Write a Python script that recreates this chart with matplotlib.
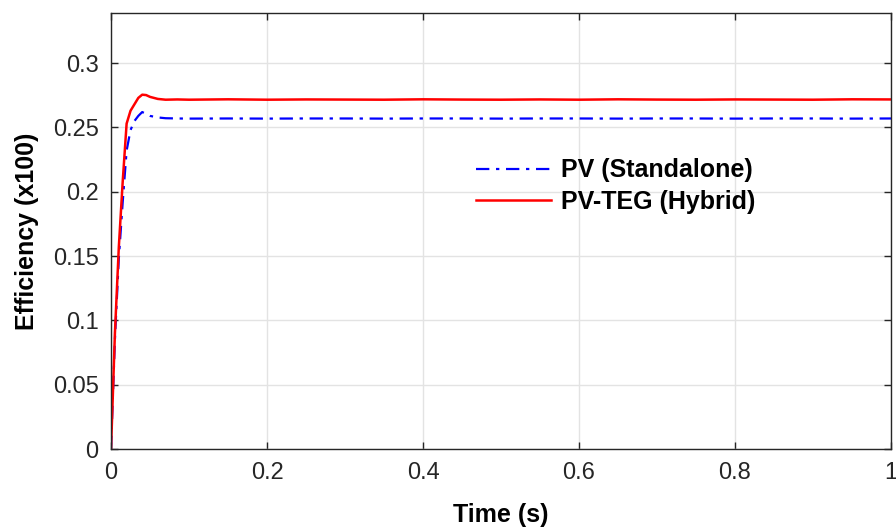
"""Efficiency of standalone PV vs hybrid PV-TEG over time."""

import matplotlib
matplotlib.use("Agg")
import matplotlib.pyplot as plt

# Data
time_s = [0.0, 0.005, 0.010, 0.015, 0.020, 0.025, 0.030, 0.035, 0.040, 0.045,
          0.050, 0.060, 0.070, 0.085, 0.10, 0.15, 0.20, 0.25, 0.30, 0.35, 0.40,
          0.45, 0.50, 0.55, 0.60, 0.65, 0.70, 0.75, 0.80, 0.85, 0.90, 0.95, 1.0]

pv_standalone = [0.0, 0.085, 0.148, 0.192, 0.232, 0.248, 0.255, 0.259, 0.262, 0.2605,
                 0.259, 0.2578, 0.2572, 0.2570, 0.2569, 0.2570, 0.2569, 0.2570, 0.2570, 0.2569, 0.2570,
                 0.2570, 0.2569, 0.2570, 0.2570, 0.2569, 0.2570, 0.2570, 0.2569, 0.2570, 0.2570, 0.2569, 0.2570]

pv_teg_hybrid = [0.0, 0.090, 0.157, 0.208, 0.253, 0.263, 0.268, 0.273, 0.2755, 0.2752,
                 0.2738, 0.2722, 0.2716, 0.2718, 0.2716, 0.2719, 0.2716, 0.2718, 0.2717, 0.2716, 0.2719,
                 0.2717, 0.2716, 0.2718, 0.2716, 0.2719, 0.2717, 0.2716, 0.2718, 0.2717, 0.2716, 0.2719, 0.2718]

x_ticks = [0, 0.2, 0.4, 0.6, 0.8, 1.0]
x_tick_labels = ["0", "0.2", "0.4", "0.6", "0.8", "1"]
y_ticks = [0, 0.05, 0.1, 0.15, 0.2, 0.25, 0.3]
y_tick_labels = ["0", "0.05", "0.1", "0.15", "0.2", "0.25", "0.3"]

plt.rcParams["font.family"] = ["Liberation Sans", "DejaVu Sans"]

fig = plt.figure(figsize=(8.96, 5.27), dpi=100)
ax = fig.add_axes([0.1239, 0.148, 0.8705, 0.8273])

ax.plot(time_s, pv_standalone, color="#0000ff", lw=1.6, linestyle=(0, (6, 3, 1.5, 3)),
        label="PV (Standalone)")
ax.plot(time_s, pv_teg_hybrid, color="#ff0000", lw=1.8, label="PV-TEG (Hybrid)")

ax.set_xlim(0, 1)
ax.set_ylim(0, 0.339)
ax.set_xticks(x_ticks)
ax.set_xticklabels(x_tick_labels)
ax.set_yticks(y_ticks)
ax.set_yticklabels(y_tick_labels)

ax.grid(True, color="#e3e3e3", lw=1.0)
ax.set_axisbelow(True)
for s in ax.spines.values():
    s.set_color("#262626")
    s.set_linewidth(1.0)
ax.tick_params(direction="in", top=True, right=True, length=5, width=1.0,
               colors="#262626", labelsize=17, pad=9)

ax.set_xlabel("Time (s)", fontsize=18, fontweight="bold", labelpad=14)
ax.set_ylabel("Efficiency (x100)", fontsize=18, fontweight="bold", labelpad=10)

ax.legend(loc="upper left", bbox_to_anchor=(0.439, 0.718), frameon=False,
          handlelength=3.0, handletextpad=0.4, labelspacing=0.3,
          prop={"weight": "bold", "size": 18})

fig.savefig("out.png", dpi=100)
